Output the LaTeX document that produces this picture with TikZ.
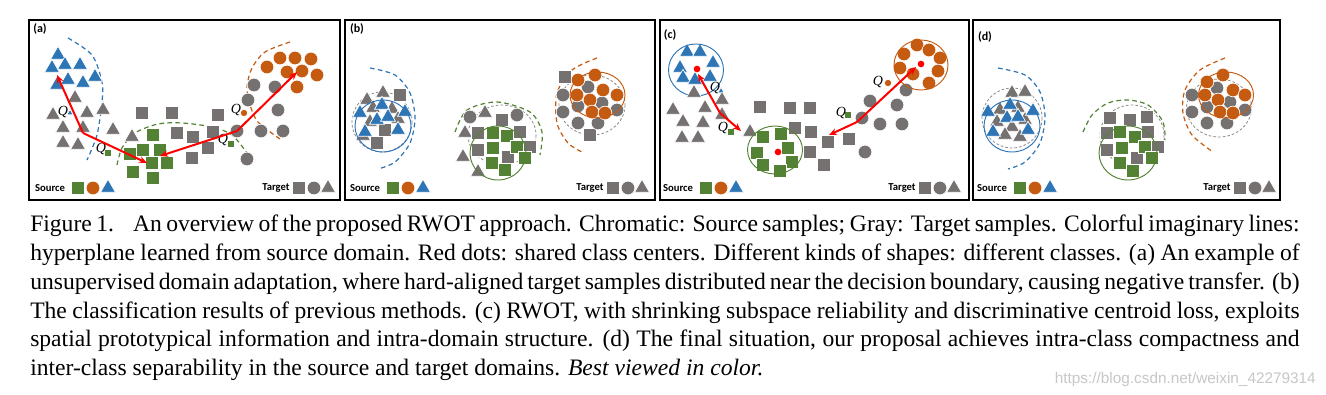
\documentclass[tikz,border=0pt]{standalone}
\usepackage{fontspec}
\setmainfont{Liberation Serif}
\newfontfamily\calibfont{Carlito}
\newfontfamily\wmfont{Liberation Sans}
\usetikzlibrary{shapes.geometric,arrows.meta}
\definecolor{srcblue}{RGB}{46,117,182}
\definecolor{srcorange}{RGB}{197,90,17}
\definecolor{srcgreen}{RGB}{84,130,53}
\definecolor{tgtgray}{RGB}{118,113,113}
\definecolor{ringgray}{RGB}{140,140,140}
\tikzset{
  sq/.style={rectangle, minimum size=10pt, inner sep=0pt, draw=white, line width=0.5pt},
  ci/.style={circle, minimum size=10.3pt, inner sep=0pt, draw=white, line width=0.5pt},
  tr/.style={regular polygon, regular polygon sides=3, minimum size=13pt, inner sep=0pt, draw=white, line width=0.5pt},
  gsq/.style={sq, fill=srcgreen},
  tsq/.style={sq, fill=tgtgray},
  oci/.style={ci, fill=srcorange},
  tci/.style={ci, fill=tgtgray},
  btr/.style={tr, fill=srcblue},
  ttr/.style={tr, fill=tgtgray},
  smallmark/.style={minimum size=5.5pt},
  hyp/.style={line width=0.9pt, dash pattern=on 3.5pt off 2.5pt},
  ring/.style={ringgray, line width=0.6pt, dash pattern=on 2pt off 1.5pt},
  bound/.style={line width=0.7pt},
  arr/.style={red, line width=1.5pt, -{Stealth[length=6pt,width=5pt]}},
  rdot/.style={circle, fill=red, minimum size=5pt, inner sep=0pt},
  qlab/.style={font=\itshape\fontsize{10.5pt}{11pt}\selectfont, inner sep=0pt},
  plab/.style={font=\calibfont\bfseries\fontsize{9pt}{10pt}\selectfont, inner sep=0pt},
  leg/.style={font=\calibfont\bfseries\fontsize{8pt}{9pt}\selectfont, inner sep=0pt},
  frame/.style={line width=1.4pt}
}
\begin{document}
\begin{tikzpicture}[x=0.75pt,y=-0.75pt]
\fill[white] (0,0) rectangle (1326,395);
\useasboundingbox (0,0) rectangle (1326,395);
% frames
\draw[frame] (29,20) rectangle (340,200);
\draw[frame] (345,20) rectangle (655,200);
\draw[frame] (660,20) rectangle (969,200);
\draw[frame] (973,20) rectangle (1280,200);
\node[plab] (la) at (40,29) {(a)};
\node[plab] (lb) at (357,29) {(b)};
\node[plab] (lc) at (670,35) {(c)};
\node[plab] (ld) at (985,37) {(d)};
% legends
\foreach \p/\sx/\tx in {a/50/276, b/365/590, c/678/902, d/992/1217}{
  \node[leg] (\p src) at (\sx,188) {Source};
  \node[gsq] (\p lg) at (\sx+28,188) {};
  \node[oci] (\p lo) at (\sx+43,188) {};
  \node[btr] (\p lb) at (\sx+58,188) {};
  \node[leg] (\p tgt) at (\tx,188) {Target};
  \node[tsq] (\p ls) at (\tx+23,188) {};
  \node[tci] (\p lc) at (\tx+38,188) {};
  \node[ttr] (\p lt) at (\tx+52,188) {};
}

% (a)
\draw[hyp, srcblue] plot[smooth] coordinates {(68,38) (92,55) (102,82) (102,102) (97,135) (87,160)};
\draw[hyp, srcgreen] plot[smooth] coordinates {(117,165) (122,148) (135,133) (158,124) (182,123) (212,127) (232,135) (247,153)};
\draw[hyp, srcorange] plot[smooth] coordinates {(290,42) (265,52) (252,68) (247,87) (250,105) (258,122) (280,139)};
\foreach \x/\y [count=\i] in {58/55, 52/68, 65/65, 80/65, 57/85, 68/80, 83/83, 95/77}
  \node[btr] (aB\i) at (\x,\y) {};
\foreach \x/\y [count=\i] in {75/98, 53/115, 87/113, 103/110, 63/128, 83/128, 113/130, 132/137, 63/143, 78/145}
  \node[ttr] (aT\i) at (\x,\y) {};
\foreach \x/\y [count=\i] in {142/113, 172/113, 218/115, 177/133, 193/137, 213/132, 208/148, 192/158}
  \node[tsq] (aS\i) at (\x,\y) {};
\foreach \x/\y [count=\i] in {153/135, 143/150, 160/150, 130/154, 152/163, 167/163, 133/172, 153/178}
  \node[gsq] (aG\i) at (\x,\y) {};
\foreach \x/\y [count=\i] in {254/85, 275/87, 248/100, 278/110, 237/131, 261/131, 283/131, 247/159}
  \node[tci] (aC\i) at (\x,\y) {};
\foreach \x/\y [count=\i] in {280/58, 295/58, 311/59, 267/67, 287/72, 302/71, 317/75, 297/87}
  \node[oci] (aO\i) at (\x,\y) {};
\node[btr, smallmark] (aqb) at (70,113) {};
\node[qlab] (aq1) at (63,112) {Q};
\node[gsq, smallmark] (aqg1) at (108,153) {};
\node[qlab] (aq2) at (101,149) {Q};
\node[oci, smallmark] (aqo) at (244,113) {};
\node[qlab] (aq3) at (236,110) {Q};
\node[gsq, smallmark] (aqg2) at (231,144) {};
\node[qlab] (aq4) at (223,140) {Q};
\coordinate (aX1) at (83,133);
\coordinate (aX2) at (237,131);
\coordinate (aH1) at (57,75);
\coordinate (aH2) at (147,163);
\coordinate (aH3) at (297,72);
\coordinate (aH4) at (160,156);
\draw[arr] (aX1) -- (aH1);
\draw[arr] (aX1) -- (aH2);
\draw[arr] (aX2) -- (aH3);
\draw[arr] (aX2) -- (aH4);

% (b)
\draw[hyp, srcblue] plot[smooth] coordinates {(370,68) (395,75) (410,93) (415,118) (410,143) (395,162) (378,169)};
\draw[ring] (382,122) ellipse [x radius=30, y radius=30];
\foreach \x/\y [count=\i] in {383/93, 367/100, 373/108, 392/109, 370/122, 398/119, 363/136}
  \node[ttr] (bT\i) at (\x,\y) {};
\foreach \x/\y [count=\i] in {400/95, 385/130, 377/143}
  \node[tsq] (bS\i) at (\x,\y) {};
\foreach \x/\y [count=\i] in {360/113, 382/105, 405/112, 377/120, 388/117, 398/130, 365/132}
  \node[btr] (bB\i) at (\x,\y) {};
\draw[bound, srcblue] (383,126) ellipse [x radius=28, y radius=26];

\draw[hyp, srcgreen] plot[smooth] coordinates {(455,132) (467,110) (497,102) (530,112) (542,132) (540,155)};
\draw[ring] (502,135) ellipse [x radius=34, y radius=30];
\foreach \x/\y [count=\i] in {470/117, 517/115}
  \node[tci] (bC\i) at (\x,\y) {};
\foreach \x/\y [count=\i] in {485/113, 465/133, 463/157, 478/172}
  \node[ttr] (bTt\i) at (\x,\y) {};
\foreach \x/\y [count=\i] in {502/120, 478/133, 520/132, 478/150, 530/147, 508/157}
  \node[tsq] (bSs\i) at (\x,\y) {};
\foreach \x/\y [count=\i] in {493/133, 507/136, 493/148, 517/147, 525/158, 492/163, 505/170}
  \node[gsq] (bG\i) at (\x,\y) {};
\draw[bound, srcgreen] (498,153) ellipse [x radius=28, y radius=27];

\draw[hyp, srcorange] plot[smooth] coordinates {(597,58) (572,70) (557,93) (557,123) (568,143) (582,152)};
\draw[ring] (592,105) ellipse [x radius=33, y radius=30];
\foreach \x/\y [count=\i] in {565/77, 590/135}
  \node[tsq] (bSo\i) at (\x,\y) {};
\foreach \x/\y [count=\i] in {588/87, 563/95, 602/103, 578/106, 563/112, 617/110, 578/123, 598/123}
  \node[tci] (bCo\i) at (\x,\y) {};
\foreach \x/\y [count=\i] in {578/80, 595/75, 577/95, 603/90, 617/95, 590/100, 592/112, 605/113}
  \node[oci] (bO\i) at (\x,\y) {};
\draw[bound, srcorange] (597.5,95) ellipse [x radius=27.5, y radius=23];

% (c)
\foreach \x/\y [count=\i] in {687/52, 700/52, 680/68, 713/63, 683/78, 695/80, 710/77}
  \node[btr] (cB\i) at (\x,\y) {};
\draw[bound, srcblue] (696,70) ellipse [x radius=27.5, y radius=26];
\node[rdot] (cR1) at (697,69) {};
\foreach \x/\y [count=\i] in {694/93, 722/100, 673/110, 705/108, 722/115, 683/122, 703/123, 682/138, 698/138, 750/132}
  \node[ttr] (cT\i) at (\x,\y) {};
\node[btr, smallmark] (cqb) at (721,91) {};
\node[qlab] (cq1) at (715,88) {Q};
\node[gsq, smallmark] (cqg1) at (731,132) {};
\node[qlab] (cq2) at (723,128) {Q};
\foreach \x/\y [count=\i] in {760/107, 790/108, 810/108, 795/128, 811/132, 828/142, 849/139, 810/152, 824/165}
  \node[tsq] (cS\i) at (\x,\y) {};
\foreach \x/\y [count=\i] in {763/137, 781/134, 757/153, 788/148, 763/165, 792/162, 780/171}
  \node[gsq] (cG\i) at (\x,\y) {};
\draw[bound, srcgreen] (775,150) ellipse [x radius=27.5, y radius=24];
\node[rdot] (cR2) at (778,152) {};
\foreach \x/\y [count=\i] in {870/101, 897/105, 906/90, 862/118, 880/124, 902/124, 865/152}
  \node[tci] (cC\i) at (\x,\y) {};
\node[gsq, smallmark] (cqg2) at (848,115) {};
\node[qlab] (cq3) at (841,113) {Q};
\node[oci, smallmark] (cqo) at (888,83) {};
\node[qlab] (cq4) at (878,82) {Q};
\foreach \x/\y [count=\i] in {917/45, 929/50, 904/54, 940/58, 900/68, 913/74, 938/71, 929/83}
  \node[oci] (cO\i) at (\x,\y) {};
\draw[bound, srcorange] (921,65) ellipse [x radius=27, y radius=25];
\node[rdot] (cR3) at (921,64) {};
\coordinate (cX1) at (720,113);
\coordinate (cX2) at (857,122);
\coordinate (cH1) at (698,74);
\coordinate (cH2) at (741,131);
\coordinate (cH3) at (916,67);
\coordinate (cH4) at (829,135);
\draw[arr] (cX1) -- (cH1);
\draw[arr] (cX1) -- (cH2);
\draw[arr] (cX2) -- (cH3);
\draw[arr] (cX2) -- (cH4);

% (d)
\draw[hyp, srcblue] plot[smooth] coordinates {(998,68) (1025,75) (1040,92) (1045,117) (1040,143) (1025,162) (1008,169)};
\draw[ring] (1012,118) ellipse [x radius=30, y radius=30];
\foreach \x/\y [count=\i] in {1012/93, 1025/92, 1000/110, 1018/108, 997/122, 1025/120, 1012/127, 1005/135, 1020/137}
  \node[ttr] (dT\i) at (\x,\y) {};
\foreach \x/\y [count=\i] in {1010/105, 988/112, 1033/111, 1007/118, 1018/117, 993/132, 1028/130}
  \node[btr] (dB\i) at (\x,\y) {};
\draw[bound, srcblue] (1012,126) ellipse [x radius=28, y radius=26];

\draw[hyp, srcgreen] plot[smooth] coordinates {(1083,132) (1092,115) (1108,103) (1128,100) (1148,105) (1162,120) (1165,135) (1163,150)};
\draw[ring] (1132,135) ellipse [x radius=32, y radius=30];
\foreach \x/\y [count=\i] in {1110/118, 1130/120, 1147/117, 1107/133, 1148/132, 1107/150, 1158/147, 1137/158}
  \node[tsq] (dS\i) at (\x,\y) {};
\foreach \x/\y [count=\i] in {1120/132, 1135/137, 1122/148, 1145/147, 1152/158, 1120/163, 1133/171}
  \node[gsq] (dG\i) at (\x,\y) {};
\draw[bound, srcgreen] (1128,153) ellipse [x radius=29, y radius=27];

\draw[hyp, srcorange] plot[smooth] coordinates {(1225,58) (1200,70) (1185,90) (1183,113) (1192,135) (1213,152)};
\draw[ring] (1219,108) ellipse [x radius=32.5, y radius=29];
\foreach \x/\y [count=\i] in {1217/88, 1192/95, 1230/102, 1207/107, 1192/112, 1245/110, 1207/123, 1227/123}
  \node[tci] (dC\i) at (\x,\y) {};
\foreach \x/\y [count=\i] in {1207/82, 1223/75, 1205/95, 1233/90, 1245/95, 1218/100, 1220/112, 1233/113}
  \node[oci] (dO\i) at (\x,\y) {};
\draw[bound, srcorange] (1226,95) ellipse [x radius=27.5, y radius=23];

% caption
\node[anchor=base west, inner sep=0pt] (cap) at (30,232) {\parbox[t]{952pt}{\fontsize{17.7pt}{21.5pt}\selectfont
\makebox[\linewidth][s]{Figure 1.\hspace{0.5em} An overview of the proposed RWOT approach. Chromatic: Source samples; Gray: Target samples. Colorful imaginary lines:}\\
\makebox[\linewidth][s]{hyperplane learned from source domain. Red dots: shared class centers. Different kinds of shapes: different classes. (a) An example of}\\
\makebox[\linewidth][s]{unsupervised domain adaptation, where hard-aligned target samples distributed near the decision boundary, causing negative transfer. (b)}\\
\makebox[\linewidth][s]{The classification results of previous methods. (c) RWOT, with shrinking subspace reliability and discriminative centroid loss, exploits}\\
\makebox[\linewidth][s]{spatial prototypical information and intra-domain structure. (d) The final situation, our proposal achieves intra-class compactness and}\\
inter-class separability in the source and target domains. \textit{Best viewed in color.}}};
\node[anchor=east, inner sep=0pt, text=black!22, font=\wmfont\fontsize{11.5pt}{13pt}\selectfont] (wm) at (1316,380) {https://blog.csdn.net/weixin\_42279314};
\end{tikzpicture}
\end{document}
